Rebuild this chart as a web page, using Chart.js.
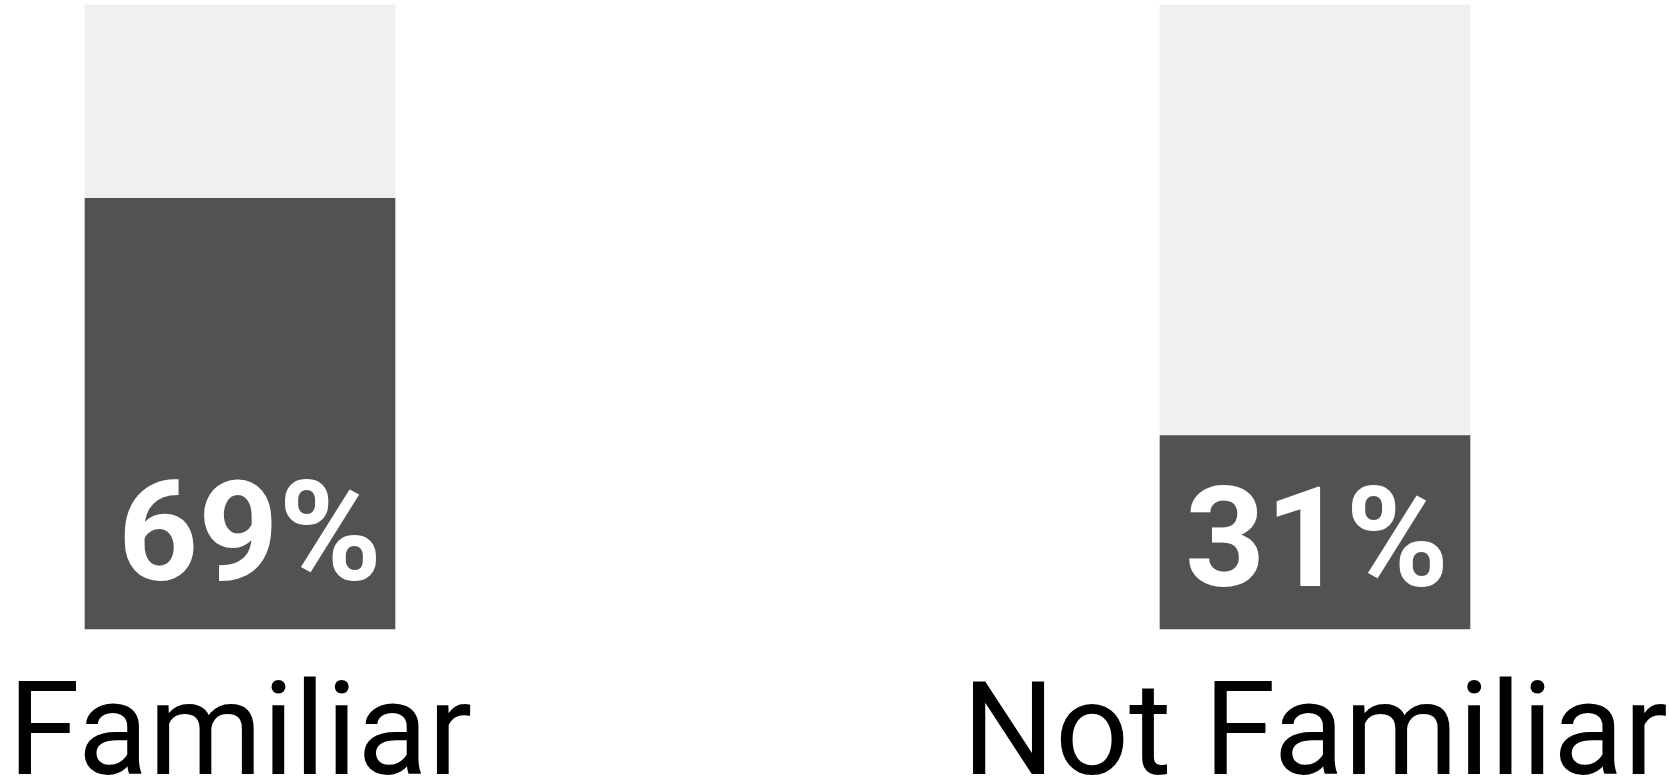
<!DOCTYPE html>
<html>
<head>
<meta charset="utf-8">
<script src="https://cdn.jsdelivr.net/npm/chart.js@4/dist/chart.umd.min.js"></script>
<style>
  html, body { margin: 0; padding: 0; background: #fff; }
  #wrap { width: 1669px; height: 777px; }
</style>
</head>
<body>
<div id="wrap"><canvas id="chart"></canvas></div>
<script>
const categories = ['Familiar', 'Not Familiar'];
const shares = [69, 31];
const rest = shares.map((v) => 100 - v);

// small nudges for the value labels, [dx, gap above bar base]
const labelNudge = [[10, 49], [2, 43]];

const ctx = document.getElementById('chart').getContext('2d');

new Chart(ctx, {
  type: 'bar',
  data: {
    labels: categories,
    datasets: [
      {
        data: shares,
        backgroundColor: '#525252',
        borderWidth: 0,
        barThickness: 310,
        clip: false,
      },
      {
        data: rest,
        backgroundColor: '#f0f0f0',
        borderWidth: 0,
        barThickness: 310,
        clip: false,
      }
    ]
  },
  options: {
    responsive: true,
    maintainAspectRatio: false,
    animation: false,
    layout: {
      padding: { top: 5, left: 240, right: 354, bottom: 0 }
    },
    scales: {
      x: {
        stacked: true,
        offset: false,
        grid: { display: false },
        border: { display: false },
        ticks: {
          color: '#000',
          padding: 49,
          font: { family: 'Roboto', size: 130, lineHeight: 0.86 },
          maxRotation: 0,
          autoSkip: false
        },
        afterFit: (scale) => {
          scale.height = 148;
          scale.paddingLeft = 0;
          scale.paddingRight = 0;
        }
      },
      y: {
        stacked: true,
        display: false,
        min: 0,
        max: 100
      }
    },
    plugins: {
      legend: { display: false },
      tooltip: { enabled: false }
    }
  },
  plugins: [{
    id: 'barValues',
    afterDatasetsDraw: (chart) => {
      const { ctx } = chart;
      const meta = chart.getDatasetMeta(0);
      ctx.save();
      ctx.fillStyle = '#fff';
      ctx.font = 'bold 140px Roboto';
      ctx.textAlign = 'center';
      ctx.textBaseline = 'alphabetic';
      meta.data.forEach((bar, i) => {
        const [dx, gap] = labelNudge[i];
        ctx.fillText(`${shares[i]}%`, bar.x + dx, bar.base - gap);
      });
      ctx.restore();
    }
  }]
});
</script>
</body>
</html>
